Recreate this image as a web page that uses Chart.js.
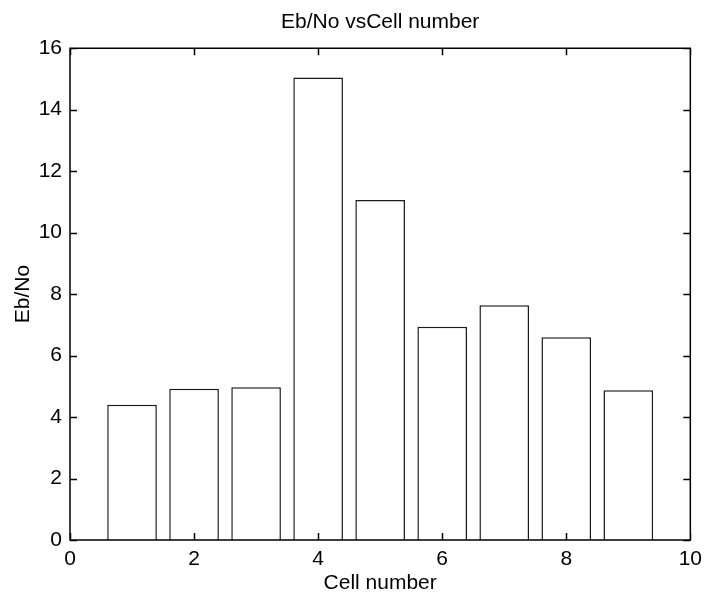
<!DOCTYPE html>
<html>
<head>
<meta charset="utf-8">
<script src="https://cdn.jsdelivr.net/npm/chart.js@4/dist/chart.umd.min.js"></script>
<style>
  html, body { margin: 0; padding: 0; background: #fff; }
  #wrap { width: 709px; height: 599px; }
</style>
</head>
<body>
<div id="wrap"><canvas id="c" width="709" height="599"></canvas></div>
<script>
const chartTitle = 'Eb/No vsCell number';
const xAxisTitle = 'Cell number';
const yAxisTitle = 'Eb/No';
const cellNumbers = [1, 2, 3, 4, 5, 6, 7, 8, 9];
const ebNo = [4.4, 4.92, 4.97, 15.05, 11.06, 6.94, 7.64, 6.6, 4.87];
const xTicks = [0, 2, 4, 6, 8, 10];
const yTicks = [0, 2, 4, 6, 8, 10, 12, 14, 16];

const FONT = 'Arial, "Liberation Sans", sans-serif';

const boxTicks = {
  id: 'boxTicks',
  afterDatasetsDraw(chart) {
    const {ctx, chartArea: a, scales: {x, y}} = chart;
    const len = 7;
    ctx.save();
    ctx.strokeStyle = '#000';
    ctx.lineWidth = 1.5;
    ctx.beginPath();
    ctx.rect(a.left, a.top, a.right - a.left, a.bottom - a.top);
    xTicks.forEach(v => {
      const px = Math.round(x.getPixelForValue(v)) + 0.5;
      ctx.moveTo(px, a.bottom); ctx.lineTo(px, a.bottom - len);
      ctx.moveTo(px, a.top); ctx.lineTo(px, a.top + len);
    });
    yTicks.forEach(v => {
      const py = Math.round(y.getPixelForValue(v)) + 0.5;
      ctx.moveTo(a.left, py); ctx.lineTo(a.left + len, py);
      ctx.moveTo(a.right, py); ctx.lineTo(a.right - len, py);
    });
    ctx.stroke();
    ctx.restore();
  }
};

new Chart(document.getElementById('c'), {
  type: 'bar',
  data: {
    datasets: [{
      data: cellNumbers.map((c, i) => ({x: c, y: ebNo[i]})),
      backgroundColor: '#ffffff',
      borderColor: '#1a1a1a',
      borderWidth: 1.5,
      barPercentage: 0.8,
      categoryPercentage: 1.0
    }]
  },
  options: {
    responsive: false,
    animation: false,
    devicePixelRatio: 1,
    layout: { padding: { left: 0, right: 15, top: 0, bottom: 0 } },
    plugins: {
      legend: { display: false },
      tooltip: { enabled: false },
      title: {
        display: true,
        fullSize: false,
        text: chartTitle,
        color: '#000',
        font: { family: FONT, size: 21, weight: 'normal', lineHeight: 1.2 },
        padding: { top: 10, bottom: 13 }
      }
    },
    scales: {
      x: {
        type: 'linear',
        min: 0, max: 10,
        offset: false,
        grid: { display: false, drawTicks: false, offset: false },
        border: { display: false },
        afterBuildTicks(scale) { scale.ticks = xTicks.map(v => ({value: v})); },
        afterFit(scale) { scale.height = 59; },
        ticks: {
          color: '#000',
          font: { family: FONT, size: 21 },
          padding: 7,
          maxRotation: 0,
          autoSkip: false
        },
        title: {
          display: true,
          text: xAxisTitle,
          color: '#000',
          font: { family: FONT, size: 21, lineHeight: 1.2 },
          padding: { top: 0, bottom: 3 }
        }
      },
      y: {
        type: 'linear',
        min: 0, max: 16,
        grid: { display: false, drawTicks: false },
        border: { display: false },
        afterBuildTicks(scale) { scale.ticks = yTicks.map(v => ({value: v})); },
        afterFit(scale) { scale.width = 70; },
        ticks: {
          color: '#000',
          font: { family: FONT, size: 21 },
          padding: 8,
          autoSkip: false
        },
        title: {
          display: true,
          text: yAxisTitle,
          color: '#000',
          font: { family: FONT, size: 21, lineHeight: 1.2 },
          padding: { top: 11, bottom: 0 }
        }
      }
    }
  },
  plugins: [boxTicks]
});
</script>
</body>
</html>
